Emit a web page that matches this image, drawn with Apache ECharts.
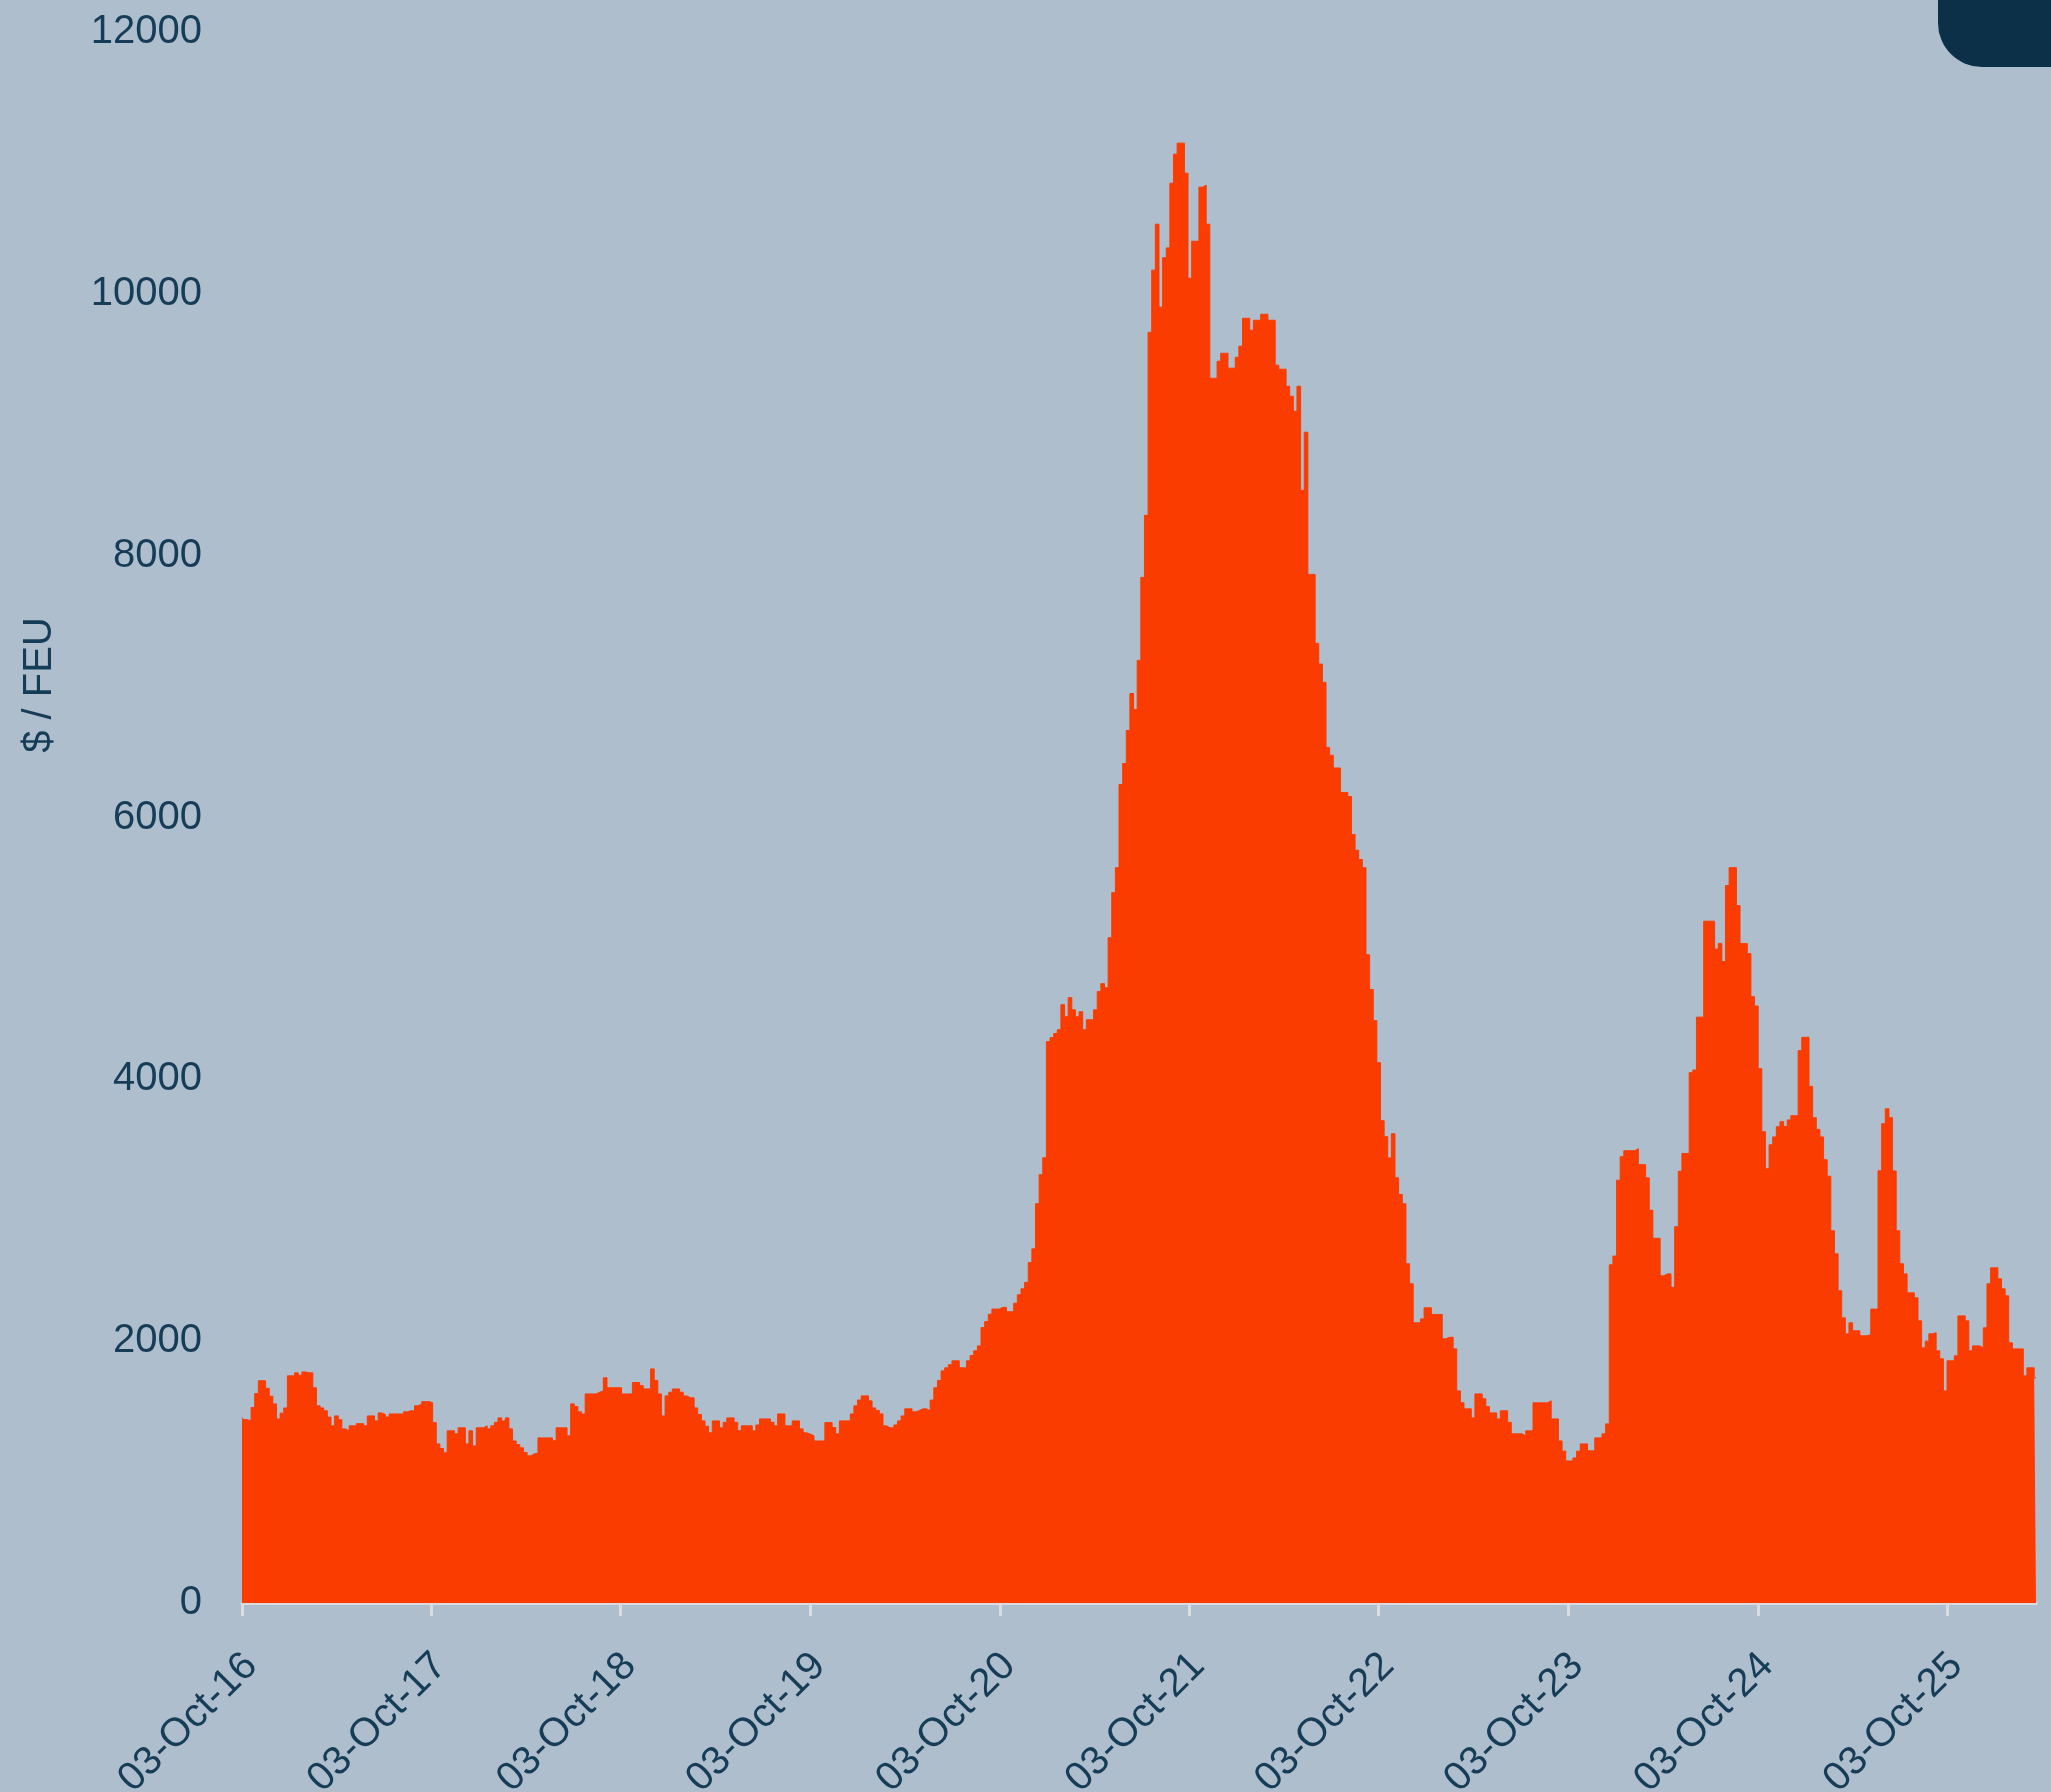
<!DOCTYPE html>
<html>
<head>
<meta charset="utf-8">
<script src="https://cdn.jsdelivr.net/npm/echarts@6/dist/echarts.min.js"></script>
<style>
html,body{margin:0;padding:0;background:#afbecd;}
#chart{width:2051px;height:1792px;}
</style>
</head>
<body>
<div id="chart"></div>
<script>
// Weekly series, first observation on 2016-10-03, one value per week
const startDate = [2016, 9, 3];
const weeklyRate = [
1416,1400,1392,1493,1600,1697,1697,1640,1580,1521,
1406,1450,1490,1735,1735,1758,1740,1765,1758,1758,
1644,1506,1490,1468,1420,1353,1429,1400,1330,1315,
1353,1353,1370,1370,1353,1429,1429,1391,1452,1440,
1420,1444,1444,1444,1444,1460,1468,1468,1506,1520,
1538,1538,1530,1378,1215,1180,1147,1315,1315,1292,
1338,1338,1215,1315,1200,1338,1338,1353,1330,1353,
1380,1414,1391,1414,1330,1238,1210,1185,1150,1124,
1139,1145,1261,1261,1261,1261,1240,1338,1338,1338,
1277,1521,1500,1460,1444,1597,1597,1597,1610,1620,
1720,1644,1644,1644,1644,1597,1597,1597,1684,1684,
1660,1635,1635,1788,1700,1597,1429,1582,1610,1635,
1635,1610,1582,1567,1567,1490,1440,1391,1350,1300,
1391,1391,1338,1380,1414,1414,1380,1315,1353,1353,
1353,1315,1360,1406,1406,1406,1380,1353,1444,1444,
1353,1353,1391,1391,1330,1300,1290,1277,1238,1238,
1238,1378,1378,1340,1292,1391,1391,1391,1444,1506,
1550,1582,1582,1544,1490,1470,1444,1353,1338,1338,
1360,1391,1429,1483,1483,1460,1470,1483,1483,1468,
1550,1644,1700,1773,1796,1820,1850,1850,1796,1796,
1850,1890,1926,1964,2104,2150,2206,2245,2245,2258,
2258,2225,2225,2290,2354,2400,2449,2600,2705,3050,
3271,3401,4288,4318,4350,4379,4570,4478,4624,4531,
4478,4516,4379,4455,4455,4531,4670,4731,4700,5082,
5426,5617,6252,6412,6665,6947,6825,7200,7834,8308,
9706,10181,10532,9898,10276,10351,10845,11067,11151,11151,
10922,10119,10402,10402,10815,10830,10532,9355,9355,9485,
9546,9546,9432,9432,9515,9600,9813,9813,9722,9798,
9798,9844,9844,9798,9798,9455,9424,9424,9294,9218,
9103,9294,8499,8943,7857,7857,7330,7172,7032,6535,
6475,6378,6378,6191,6191,6160,5870,5750,5679,5617,
4952,4686,4448,4127,3684,3562,3400,3584,3248,3120,
3050,2591,2438,2140,2140,2170,2255,2255,2204,2204,
2204,2018,2030,2030,1941,1620,1529,1483,1483,1414,
1597,1597,1560,1500,1452,1452,1406,1468,1468,1380,
1292,1292,1292,1277,1315,1315,1529,1529,1529,1529,
1544,1406,1406,1238,1160,1085,1085,1108,1160,1215,
1215,1162,1162,1261,1261,1292,1368,2583,2650,3229,
3409,3455,3455,3455,3470,3348,3348,3248,3000,2786,
2786,2499,2514,2514,2411,2874,3298,3434,3434,4051,
4071,4475,4475,5208,5208,5208,4995,5037,4900,5480,
5617,5617,5327,5037,5037,4960,4631,4560,4081,3600,
3317,3500,3560,3638,3676,3640,3690,3722,3722,4219,
4321,4321,3946,3707,3618,3560,3386,3260,2843,2667,
2385,2178,2056,2140,2079,2079,2041,2041,2050,2245,
2245,3302,3661,3775,3707,3300,2843,2591,2514,2369,
2369,2331,2155,1949,2000,2056,2064,1926,1865,1620,
1850,1850,1888,2193,2193,2155,1926,1964,1964,1950,
2102,2438,2560,2560,2476,2400,2346,1987,1941,1941,
1941,1735,1796,1796,1720
];
const tickDates = [
[2016,9,3],[2017,9,3],[2018,9,3],[2019,9,3],[2020,9,3],
[2021,9,3],[2022,9,3],[2023,9,3],[2024,9,3],[2025,9,3]
];
const tickLabels = ['03-Oct-16','03-Oct-17','03-Oct-18','03-Oct-19','03-Oct-20',
'03-Oct-21','03-Oct-22','03-Oct-23','03-Oct-24','03-Oct-25'];
const yMin = 0, yMax = 12000, yStep = 2000;
const yTitle = '$ / FEU';

const DAY = 86400000;
const t0 = Date.UTC(startDate[0], startDate[1], startDate[2]);
const seriesData = weeklyRate.map((v, i) => [t0 + i * 7 * DAY, v]);
const tickMs = tickDates.map(d => Date.UTC(d[0], d[1], d[2]));
const textColor = '#163d57';
const font = 'Liberation Sans, Arial, sans-serif';

function labelFor(v) {
  let best = 0, bd = Infinity;
  tickMs.forEach((t, i) => { const d = Math.abs(t - v); if (d < bd) { bd = d; best = i; } });
  return tickLabels[best];
}

const chart = echarts.init(document.getElementById('chart'), null, {renderer: 'canvas'});
chart.setOption({
  backgroundColor: '#afbecd',
  animation: false,
  grid: {left: 242, right: 15, top: 32, bottom: 189, containLabel: false, outerBoundsMode: 'none'},
  xAxis: {
    type: 'value',
    scale: true,
    min: seriesData[0][0],
    max: seriesData[seriesData.length - 1][0],
    axisLine: {show: true, lineStyle: {color: '#dadcdf', width: 3}},
    axisTick: {show: true, customValues: tickMs, length: 13, lineStyle: {color: '#dadcdf', width: 3}},
    axisLabel: {
      customValues: tickMs,
      rotate: 45, margin: 66, fontSize: 40, color: textColor, fontFamily: font,
      padding: [0, -13, 0, 0],
      formatter: labelFor
    },
    splitLine: {show: false}
  },
  yAxis: {
    type: 'value', min: yMin, max: yMax, interval: yStep,
    axisLine: {show: false}, axisTick: {show: false}, splitLine: {show: false},
    axisLabel: {fontSize: 40, color: textColor, fontFamily: font, margin: 40,
      formatter: function (v) { return String(v); }}
  },
  series: [{
    type: 'line', step: 'middle', symbol: 'none', data: seriesData,
    lineStyle: {width: 1, color: '#fa3c00'},
    areaStyle: {color: '#fa3c00', opacity: 1},
    z: 1
  }],
  graphic: [
    {type: 'rect', shape: {x: 1938, y: -60, width: 200, height: 127, r: 44}, style: {fill: '#0b3048'}, z: 10},
    {type: 'text', x: 40, y: 685, rotation: Math.PI / 2,
     style: {text: yTitle, fontSize: 40, fill: textColor, fontFamily: font, align: 'center', verticalAlign: 'middle', textAlign: 'center', textVerticalAlign: 'middle'}, z: 10}
  ]
});
</script>
</body>
</html>
